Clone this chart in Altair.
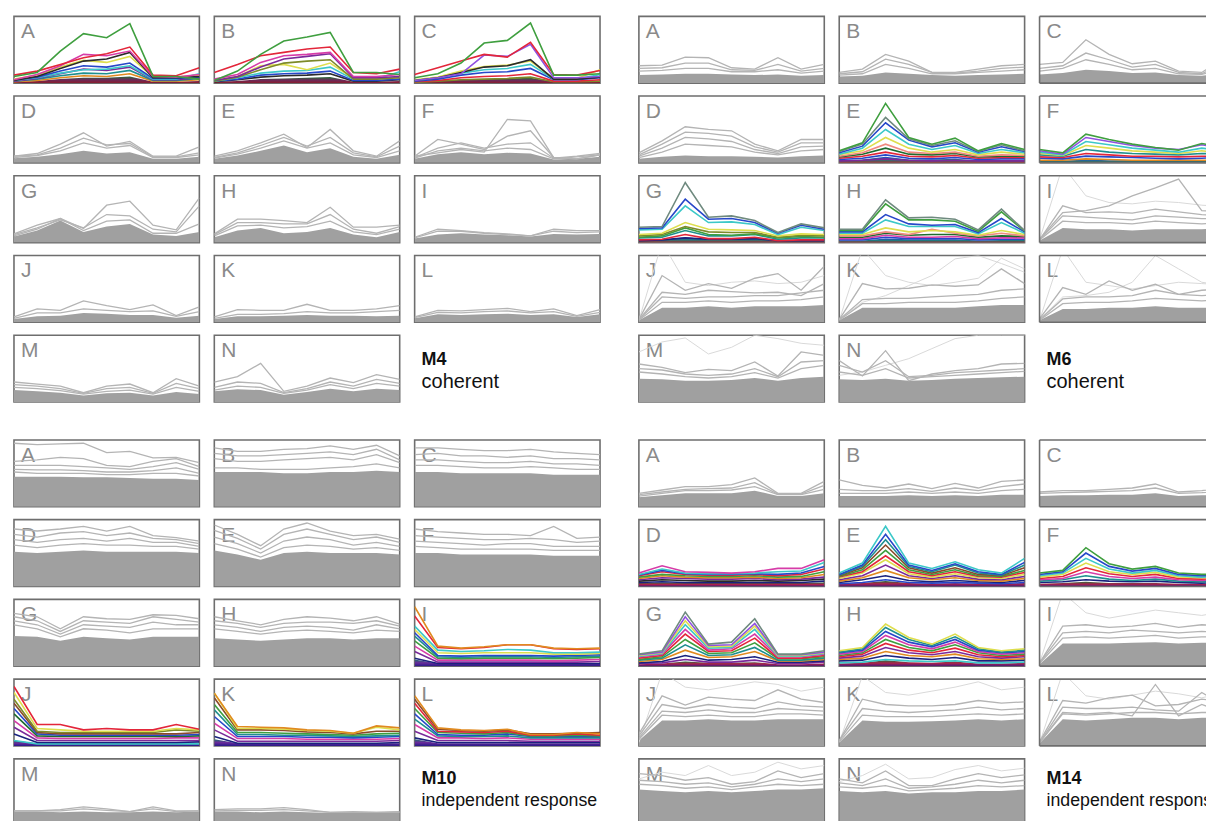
import altair as alt
import pandas as pd

T = list(range(9))  # nine time points per profile
LETTERS = "ABCDEFGHIJKLMN"

# ---------------- M4 ----------------
M4_BAND = {
    "A": [2, 3, 6, 8, 8, 10, 2, 2, 3],
    "B": [2, 3, 6, 7, 8, 9, 2, 2, 3],
    "C": [2, 3, 5, 6, 7, 8, 2, 2, 3],
    "D": [7, 9, 13, 18, 14, 16, 6, 6, 9],
    "E": [6, 11, 18, 26, 16, 22, 9, 6, 12],
    "F": [6, 13, 16, 13, 15, 14, 5, 6, 9],
    "G": [9, 18, 33, 16, 24, 28, 12, 10, 16],
    "H": [8, 18, 22, 14, 16, 22, 12, 8, 16],
    "I": [6, 12, 14, 12, 11, 9, 13, 12, 13],
    "J": [5, 9, 10, 14, 13, 11, 11, 7, 10],
    "K": [5, 9, 9, 10, 11, 10, 10, 9, 10],
    "L": [6, 12, 11, 12, 13, 11, 12, 8, 12],
    "M": [18, 16, 14, 10, 13, 14, 10, 15, 12],
    "N": [16, 19, 18, 11, 15, 20, 16, 20, 18],
}
M4_LINES = {
    "A": [[10, 16, 48, 74, 68, 89, 10, 10, 6], [12, 18, 28, 38, 44, 54, 12, 11, 23],
          [5, 13, 26, 43, 41, 48, 10, 9, 13], [4, 10, 22, 33, 36, 46, 8, 8, 10],
          [6, 12, 24, 34, 31, 40, 9, 9, 12], [5, 9, 18, 26, 24, 30, 7, 7, 9],
          [4, 8, 15, 20, 21, 26, 6, 6, 14], [3, 7, 14, 21, 19, 24, 5, 5, 8],
          [3, 6, 11, 15, 14, 19, 4, 4, 7], [2, 4, 8, 11, 10, 14, 3, 3, 5]],
    "B": [[4, 18, 43, 63, 69, 76, 16, 16, 13], [16, 28, 41, 46, 51, 54, 16, 14, 21],
          [6, 13, 31, 41, 43, 46, 10, 10, 13], [4, 10, 24, 36, 40, 44, 8, 8, 10],
          [3, 9, 20, 30, 33, 35, 6, 6, 8], [4, 10, 26, 28, 20, 30, 7, 7, 9],
          [3, 8, 15, 18, 19, 24, 6, 6, 17], [3, 6, 12, 14, 15, 18, 4, 4, 6],
          [2, 5, 9, 11, 12, 14, 3, 3, 5]],
    "C": [[8, 14, 30, 60, 64, 90, 12, 12, 14], [13, 23, 33, 43, 39, 61, 13, 12, 19],
          [4, 8, 14, 42, 40, 58, 8, 8, 10], [4, 8, 16, 24, 26, 35, 6, 6, 9],
          [5, 9, 18, 25, 27, 33, 7, 7, 20], [4, 8, 15, 20, 22, 28, 6, 6, 13],
          [3, 6, 12, 16, 17, 22, 5, 5, 8], [2, 4, 8, 10, 11, 14, 3, 3, 5],
          [1, 3, 5, 6, 7, 9, 2, 2, 3]],
    "D": [[10, 14, 28, 45, 25, 32, 10, 10, 24], [10, 12, 22, 37, 27, 29, 9, 9, 15],
          [8, 11, 18, 30, 22, 26, 8, 8, 12]],
    "E": [[10, 18, 30, 43, 23, 50, 18, 10, 33], [8, 15, 26, 38, 25, 38, 15, 9, 25],
          [7, 13, 22, 33, 22, 30, 12, 8, 18]],
    "F": [[10, 15, 20, 16, 65, 63, 8, 6, 12], [10, 35, 28, 20, 40, 48, 8, 6, 12],
          [8, 22, 30, 22, 28, 30, 7, 10, 14], [7, 18, 22, 18, 22, 20, 6, 9, 12]],
    "G": [[13, 26, 36, 21, 56, 62, 26, 19, 67], [12, 22, 34, 22, 42, 40, 20, 16, 55],
          [10, 20, 36, 18, 32, 34, 14, 14, 28]],
    "H": [[13, 35, 35, 33, 30, 53, 23, 23, 26], [12, 30, 30, 28, 28, 42, 20, 14, 24],
          [10, 25, 26, 22, 24, 32, 16, 12, 20]],
    "I": [[8, 20, 18, 15, 13, 10, 20, 18, 18], [7, 17, 17, 14, 12, 10, 17, 15, 16]],
    "J": [[8, 20, 18, 32, 25, 19, 26, 10, 23], [6, 14, 14, 20, 18, 16, 17, 9, 16]],
    "K": [[8, 19, 18, 18, 27, 18, 18, 20, 25], [6, 12, 12, 13, 16, 14, 14, 16, 18]],
    "L": [[8, 18, 17, 19, 21, 16, 20, 10, 19], [7, 15, 14, 16, 17, 14, 16, 9, 15]],
    "M": [[30, 27, 24, 14, 24, 27, 14, 35, 24], [26, 24, 20, 13, 20, 22, 13, 28, 20],
          [22, 20, 17, 12, 16, 18, 12, 22, 16]],
    "N": [[30, 38, 58, 16, 24, 36, 29, 41, 34], [22, 30, 28, 14, 20, 30, 24, 34, 28],
          [18, 24, 22, 13, 18, 26, 20, 28, 24]],
}
M4_FAINT = {}
M4_COLORED = {"A": "grmkybcpto", "B": "grmplycbk", "C": "grvkycbrl"}

# ---------------- M6 ----------------
M6_BAND = {
    "A": [12, 13, 14, 14, 13, 12, 13, 11, 12],
    "B": [10, 11, 16, 14, 12, 11, 12, 13, 14],
    "C": [13, 15, 20, 18, 15, 16, 12, 11, 15],
    "D": [6, 9, 11, 10, 10, 9, 8, 10, 11],
    "E": [3, 5, 9, 5, 5, 6, 3, 4, 4],
    "F": [3, 3, 5, 4, 4, 4, 3, 3, 3],
    "G": [3, 4, 8, 5, 5, 6, 3, 3, 3],
    "H": [3, 3, 6, 5, 5, 5, 3, 4, 4],
    "I": [3, 22, 20, 20, 18, 20, 20, 20, 22],
    "J": [3, 22, 22, 24, 22, 24, 24, 24, 26],
    "K": [3, 22, 22, 22, 22, 22, 24, 26, 26],
    "L": [3, 20, 20, 22, 22, 24, 22, 22, 22],
    "M": [35, 34, 32, 32, 33, 36, 32, 36, 38],
    "N": [34, 33, 35, 32, 33, 35, 36, 37, 38],
}
M6_LINES = {
    "A": [[26, 27, 39, 38, 23, 21, 38, 21, 28], [22, 23, 30, 30, 20, 19, 28, 18, 22],
          [18, 19, 22, 22, 17, 17, 20, 15, 18]],
    "B": [[16, 21, 43, 33, 16, 16, 21, 26, 28], [14, 17, 36, 28, 16, 15, 18, 22, 24],
          [12, 14, 28, 22, 14, 14, 16, 18, 20]],
    "C": [[28, 31, 65, 43, 29, 33, 18, 16, 38], [22, 26, 45, 35, 24, 28, 16, 14, 30],
          [18, 22, 35, 28, 20, 22, 14, 13, 22]],
    "D": [[15, 33, 54, 50, 48, 28, 18, 35, 35], [12, 28, 46, 44, 40, 24, 16, 30, 30],
          [10, 22, 38, 36, 32, 20, 14, 24, 25], [8, 16, 28, 26, 24, 16, 12, 18, 20]],
    "E": [[18, 30, 89, 38, 28, 37, 18, 29, 20], [17, 28, 68, 36, 26, 33, 17, 27, 18],
          [15, 25, 60, 34, 24, 30, 16, 24, 17], [13, 22, 50, 28, 20, 26, 14, 20, 15],
          [12, 18, 38, 22, 16, 20, 12, 16, 13], [10, 15, 28, 16, 14, 16, 10, 12, 11],
          [9, 13, 22, 13, 12, 14, 9, 10, 10], [7, 10, 16, 10, 9, 11, 7, 8, 8],
          [5, 7, 12, 7, 6, 8, 5, 6, 6], [3, 4, 6, 4, 3, 4, 3, 3, 3]],
    "F": [[20, 15, 43, 35, 28, 23, 19, 29, 23], [18, 13, 38, 32, 26, 22, 20, 27, 22],
          [16, 12, 32, 27, 22, 19, 16, 22, 18], [14, 11, 26, 22, 18, 16, 14, 18, 15],
          [12, 10, 20, 16, 14, 13, 12, 14, 13], [9, 8, 14, 12, 10, 10, 9, 10, 10],
          [7, 6, 10, 9, 8, 7, 6, 7, 8], [4, 4, 6, 5, 4, 4, 4, 4, 4]],
    "G": [[23, 24, 90, 38, 40, 33, 15, 28, 22], [21, 22, 65, 35, 36, 30, 14, 26, 20],
          [19, 20, 55, 30, 31, 27, 12, 23, 18], [12, 14, 30, 20, 19, 18, 10, 13, 12],
          [10, 12, 24, 16, 15, 15, 8, 11, 10], [8, 10, 22, 12, 11, 13, 7, 9, 8],
          [7, 8, 18, 10, 10, 12, 5, 7, 7], [4, 5, 12, 6, 6, 8, 3, 4, 4],
          [3, 4, 7, 5, 5, 6, 3, 3, 3]],
    "H": [[20, 20, 64, 37, 38, 35, 19, 50, 18], [18, 18, 58, 34, 34, 32, 17, 46, 17],
          [16, 16, 42, 28, 26, 27, 15, 36, 16], [14, 14, 34, 24, 24, 24, 13, 30, 14],
          [12, 12, 22, 16, 18, 16, 11, 18, 12], [10, 10, 16, 12, 20, 14, 10, 14, 10],
          [8, 8, 14, 11, 12, 12, 8, 10, 9], [6, 6, 11, 8, 8, 9, 6, 7, 7],
          [4, 4, 8, 6, 6, 6, 4, 5, 5]],
    "I": [[5, 45, 48, 55, 70, 82, 95, 48, 45], [4, 55, 45, 46, 44, 50, 46, 42, 40],
          [4, 40, 38, 36, 34, 40, 38, 36, 35], [4, 32, 30, 30, 28, 32, 30, 28, 30]],
    "J": [[4, 70, 48, 58, 51, 66, 73, 48, 84], [4, 45, 42, 48, 46, 44, 45, 40, 58],
          [4, 38, 36, 38, 38, 40, 40, 44, 48], [3, 30, 30, 32, 30, 32, 32, 34, 38]],
    "K": [[4, 58, 50, 51, 56, 54, 56, 80, 58], [4, 34, 36, 36, 38, 40, 42, 48, 50],
          [3, 28, 28, 30, 30, 30, 32, 36, 38]],
    "L": [[5, 52, 42, 62, 48, 57, 42, 48, 50], [4, 35, 38, 38, 40, 48, 42, 40, 42],
          [3, 28, 30, 30, 32, 36, 34, 32, 34]],
    "M": [[57, 52, 44, 49, 47, 60, 39, 75, 70], [50, 48, 42, 40, 42, 50, 38, 60, 62],
          [45, 42, 38, 36, 38, 44, 36, 50, 55]],
    "N": [[62, 39, 77, 32, 42, 47, 50, 57, 58], [55, 45, 62, 38, 40, 44, 46, 48, 50],
          [45, 40, 50, 36, 38, 40, 42, 44, 46]],
}
M6_FAINT = {
    "I": [[4, 115, 70, 60, 58, 62, 60, 56, 54]],
    "J": [[3, 120, 60, 55, 60, 62, 58, 60, 70]],
    "K": [[4, 30, 40, 55, 70, 95, 100, 88, 75], [3, 110, 70, 60, 55, 60, 66, 96, 80]],
    "L": [[4, 38, 40, 45, 60, 100, 80, 60, 55], [3, 110, 60, 55, 50, 55, 60, 58, 56]],
    "M": [[75, 90, 96, 72, 82, 100, 95, 88, 85]],
    "N": [[40, 45, 55, 65, 80, 95, 100, 100, 100]],
}
M6_COLORED = {"E": "gabcyserbp", "F": "gvcytrbo", "G": "abcylgtrn", "H": "agbcysemb"}

# ---------------- M10 ----------------
M10_BAND = {
    "A": [45, 45, 45, 44, 44, 43, 42, 42, 40],
    "B": [52, 52, 52, 50, 50, 52, 52, 54, 52],
    "C": [52, 52, 50, 50, 50, 50, 48, 48, 48],
    "D": [52, 50, 52, 54, 52, 52, 52, 52, 50],
    "E": [54, 48, 40, 50, 52, 50, 50, 50, 48],
    "F": [50, 50, 48, 48, 48, 48, 46, 46, 46],
    "G": [45, 44, 38, 44, 42, 40, 44, 44, 44],
    "H": [42, 40, 38, 40, 42, 42, 40, 42, 42],
    "I": [10, 4, 4, 4, 4, 4, 4, 4, 4],
    "J": [8, 4, 4, 4, 4, 4, 4, 4, 4],
    "K": [10, 4, 4, 4, 4, 4, 4, 4, 4],
    "L": [10, 4, 4, 4, 4, 4, 4, 4, 4],
    "M": [21, 21, 20, 21, 20, 20, 21, 20, 21],
    "N": [21, 21, 20, 21, 20, 19, 20, 20, 21],
}
M10_LINES = {
    "A": [[95, 93, 94, 95, 81, 83, 73, 74, 66], [68, 70, 74, 72, 62, 60, 68, 72, 60],
          [62, 62, 62, 60, 58, 56, 60, 66, 56], [56, 55, 55, 54, 52, 52, 54, 58, 50],
          [52, 50, 50, 50, 48, 48, 50, 50, 46]],
    "B": [[88, 83, 83, 86, 87, 91, 86, 92, 76], [80, 76, 76, 78, 80, 82, 78, 86, 70],
          [72, 68, 68, 70, 72, 74, 70, 78, 66], [58, 58, 56, 56, 56, 58, 60, 64, 58]],
    "C": [[88, 88, 86, 84, 84, 86, 82, 80, 78], [78, 80, 76, 76, 74, 76, 72, 72, 70],
          [70, 70, 68, 66, 66, 68, 64, 64, 62], [62, 62, 60, 58, 58, 60, 58, 56, 56]],
    "D": [[86, 83, 86, 90, 83, 90, 76, 73, 68], [78, 74, 80, 82, 76, 80, 72, 70, 64],
          [70, 66, 70, 72, 68, 72, 66, 66, 60], [62, 58, 62, 64, 62, 62, 60, 60, 56]],
    "E": [[92, 78, 61, 86, 95, 83, 76, 78, 71], [84, 72, 56, 78, 86, 78, 70, 74, 66],
          [74, 64, 50, 68, 74, 70, 62, 66, 60], [64, 56, 44, 58, 62, 60, 56, 58, 54]],
    "F": [[86, 82, 80, 78, 78, 76, 90, 72, 74], [76, 74, 72, 70, 70, 72, 70, 66, 68],
          [68, 66, 64, 62, 64, 64, 60, 60, 60], [60, 58, 56, 56, 56, 56, 54, 54, 54]],
    "G": [[79, 74, 56, 74, 71, 70, 77, 76, 71], [74, 68, 52, 68, 66, 64, 74, 70, 66],
          [68, 62, 48, 62, 60, 58, 66, 62, 62], [62, 56, 44, 56, 54, 50, 56, 56, 56]],
    "H": [[74, 68, 62, 70, 74, 72, 68, 74, 63], [68, 64, 58, 64, 66, 66, 64, 68, 60],
          [62, 58, 52, 58, 60, 58, 54, 62, 56], [56, 52, 48, 52, 54, 52, 50, 54, 52]],
    "I": [[89, 30, 27, 29, 32, 32, 27, 26, 27], [75, 28, 26, 28, 32, 32, 26, 25, 26],
          [60, 24, 22, 23, 25, 24, 20, 20, 21], [55, 20, 19, 20, 20, 20, 18, 18, 19],
          [50, 16, 15, 16, 16, 16, 15, 16, 17], [45, 14, 13, 14, 14, 14, 13, 14, 15],
          [38, 12, 11, 12, 12, 12, 11, 12, 13], [30, 9, 9, 9, 9, 9, 8, 9, 10],
          [22, 6, 6, 6, 6, 6, 6, 6, 7], [12, 4, 4, 4, 4, 4, 4, 4, 4]],
    "J": [[89, 32, 32, 24, 26, 24, 24, 32, 25], [80, 26, 24, 22, 22, 22, 22, 26, 24],
          [70, 22, 20, 20, 20, 20, 20, 24, 22], [64, 20, 18, 18, 18, 18, 18, 18, 20],
          [56, 18, 16, 16, 16, 16, 16, 16, 17], [48, 15, 14, 14, 14, 14, 14, 14, 15],
          [38, 12, 11, 11, 11, 11, 11, 12, 12], [28, 8, 8, 8, 8, 8, 8, 8, 8],
          [18, 5, 5, 5, 5, 5, 5, 5, 6], [8, 3, 3, 3, 3, 3, 3, 3, 3]],
    "K": [[79, 29, 28, 27, 24, 23, 19, 30, 27], [79, 26, 26, 25, 23, 22, 19, 28, 24],
          [72, 24, 24, 23, 21, 20, 18, 22, 22], [62, 20, 20, 19, 18, 17, 16, 18, 19],
          [54, 17, 17, 16, 16, 15, 14, 15, 16], [44, 14, 14, 14, 13, 13, 12, 13, 14],
          [34, 11, 11, 11, 10, 10, 10, 10, 11], [24, 7, 7, 7, 7, 7, 7, 7, 8],
          [14, 4, 4, 4, 4, 4, 4, 4, 5]],
    "L": [[75, 27, 24, 23, 25, 17, 17, 20, 18], [70, 25, 23, 22, 24, 18, 18, 19, 20],
          [64, 22, 21, 20, 22, 16, 16, 18, 16], [56, 20, 19, 18, 20, 15, 15, 16, 15],
          [48, 17, 16, 16, 18, 14, 14, 14, 14], [40, 15, 14, 14, 15, 12, 12, 12, 12],
          [32, 12, 12, 11, 12, 10, 10, 10, 10], [22, 8, 8, 8, 8, 7, 7, 7, 7],
          [12, 5, 5, 5, 5, 5, 5, 5, 5]],
    "M": [[22, 22, 24, 28, 25, 21, 28, 22, 22], [22, 22, 22, 25, 23, 21, 25, 21, 22]],
    "N": [[24, 25, 25, 27, 24, 20, 21, 20, 21], [22, 23, 23, 24, 22, 20, 20, 20, 20]],
}
M10_FAINT = {}
M10_COLORED = {"I": "orcybtgmpn", "J": "rylwbempnc", "K": "oywgtbmpn", "L": "owrgbtmpn"}

# ---------------- M14 ----------------
M14_BAND = {
    "A": [14, 17, 20, 20, 20, 24, 16, 16, 20],
    "B": [16, 16, 16, 17, 16, 17, 16, 18, 18],
    "C": [16, 17, 17, 18, 18, 20, 16, 17, 18],
    "D": [5, 6, 5, 5, 5, 5, 5, 5, 6],
    "E": [4, 5, 8, 5, 4, 5, 4, 4, 5],
    "F": [4, 5, 7, 5, 5, 5, 4, 4, 4],
    "G": [3, 4, 7, 5, 5, 6, 3, 3, 4],
    "H": [4, 5, 9, 6, 5, 7, 4, 4, 5],
    "I": [3, 34, 34, 34, 35, 36, 34, 35, 35],
    "J": [8, 38, 38, 40, 38, 38, 40, 40, 40],
    "K": [5, 38, 36, 36, 37, 38, 40, 38, 40],
    "L": [4, 40, 38, 40, 42, 42, 40, 42, 42],
    "M": [54, 52, 50, 52, 50, 52, 54, 54, 56],
    "N": [52, 50, 52, 48, 50, 50, 52, 52, 54],
}
M14_LINES = {
    "A": [[20, 25, 30, 30, 33, 43, 20, 20, 38], [18, 22, 26, 27, 28, 36, 19, 19, 32],
          [16, 20, 24, 24, 25, 30, 18, 18, 26]],
    "B": [[40, 32, 28, 34, 27, 35, 28, 38, 40], [26, 24, 24, 27, 23, 28, 24, 30, 34],
          [20, 20, 20, 22, 20, 22, 20, 24, 26]],
    "C": [[22, 24, 24, 26, 28, 34, 22, 24, 28], [20, 21, 22, 23, 24, 28, 20, 21, 24]],
    "D": [[20, 31, 22, 21, 20, 22, 27, 27, 40], [18, 26, 20, 19, 19, 20, 22, 23, 36],
          [17, 24, 19, 18, 18, 19, 18, 20, 30], [16, 22, 18, 17, 17, 18, 16, 18, 26],
          [14, 18, 16, 15, 15, 16, 14, 15, 22], [12, 16, 14, 13, 13, 14, 12, 13, 18],
          [10, 13, 12, 11, 11, 12, 10, 11, 14], [8, 10, 9, 8, 8, 9, 8, 9, 11],
          [6, 7, 6, 6, 6, 6, 6, 6, 8]],
    "E": [[20, 35, 90, 35, 27, 37, 25, 20, 42], [18, 32, 78, 32, 24, 34, 22, 18, 36],
          [17, 30, 70, 30, 22, 32, 20, 17, 32], [16, 28, 62, 28, 20, 28, 18, 16, 28],
          [15, 25, 54, 25, 18, 25, 16, 15, 24], [14, 22, 46, 22, 16, 22, 15, 14, 21],
          [12, 20, 40, 19, 14, 19, 13, 12, 18], [10, 16, 32, 16, 12, 16, 11, 10, 15],
          [8, 13, 24, 13, 10, 13, 9, 8, 12], [6, 10, 16, 9, 7, 9, 7, 6, 9],
          [4, 6, 10, 6, 5, 6, 5, 4, 6]],
    "F": [[20, 24, 58, 34, 26, 30, 20, 18, 18], [18, 22, 50, 30, 23, 27, 18, 16, 16],
          [16, 20, 42, 26, 20, 24, 16, 14, 15], [14, 18, 35, 22, 18, 21, 14, 13, 14],
          [12, 15, 28, 19, 15, 18, 12, 11, 12], [10, 12, 22, 15, 12, 14, 10, 9, 10],
          [8, 10, 16, 11, 9, 11, 8, 7, 8], [6, 7, 10, 8, 7, 8, 6, 5, 6]],
    "G": [[18, 23, 81, 33, 36, 71, 18, 18, 23], [17, 21, 74, 31, 32, 64, 17, 17, 21],
          [16, 20, 68, 29, 30, 60, 16, 16, 20], [15, 19, 62, 27, 28, 55, 15, 15, 19],
          [14, 18, 55, 24, 26, 48, 14, 14, 18], [12, 16, 48, 22, 23, 42, 12, 12, 16],
          [10, 14, 40, 19, 20, 35, 11, 11, 14], [9, 12, 32, 16, 17, 28, 9, 9, 12],
          [7, 10, 24, 13, 14, 22, 8, 8, 10], [5, 7, 16, 9, 10, 14, 6, 6, 8],
          [4, 5, 10, 6, 6, 9, 4, 4, 6]],
    "H": [[23, 28, 63, 43, 33, 48, 28, 23, 26], [21, 26, 58, 40, 31, 44, 26, 21, 24],
          [20, 24, 52, 36, 29, 40, 24, 20, 22], [18, 22, 46, 32, 26, 36, 22, 18, 20],
          [16, 20, 40, 28, 23, 32, 20, 16, 18], [14, 18, 34, 24, 20, 27, 17, 14, 16],
          [12, 15, 28, 20, 17, 22, 14, 12, 14], [10, 12, 22, 16, 14, 18, 11, 10, 11],
          [8, 9, 16, 12, 10, 13, 8, 8, 9], [5, 6, 10, 8, 7, 8, 5, 5, 6]],
    "I": [[5, 60, 62, 58, 60, 64, 58, 62, 60], [5, 50, 52, 50, 54, 52, 50, 52, 50],
          [4, 42, 44, 42, 44, 46, 42, 44, 44]],
    "J": [[18, 75, 61, 73, 70, 68, 84, 70, 65], [15, 62, 56, 62, 58, 56, 66, 60, 58],
          [12, 52, 50, 54, 50, 50, 56, 54, 52], [10, 46, 44, 46, 44, 44, 48, 48, 46]],
    "K": [[8, 70, 62, 60, 60, 62, 68, 64, 66], [8, 56, 52, 50, 52, 54, 58, 54, 56],
          [6, 46, 44, 44, 44, 46, 48, 46, 48]],
    "L": [[6, 68, 64, 72, 76, 60, 62, 70, 66], [5, 50, 48, 50, 45, 92, 45, 62, 50],
          [5, 58, 56, 56, 58, 54, 52, 80, 60], [5, 48, 46, 48, 50, 50, 48, 50, 50]],
    "M": [[78, 75, 68, 72, 62, 66, 82, 72, 78], [68, 66, 62, 64, 58, 62, 70, 66, 70],
          [62, 60, 56, 58, 54, 58, 62, 60, 62]],
    "N": [[70, 64, 82, 60, 60, 70, 78, 72, 76], [64, 60, 70, 56, 58, 62, 68, 64, 68],
          [58, 56, 60, 52, 54, 56, 60, 58, 60]],
}
M14_FAINT = {
    "I": [[5, 110, 80, 72, 78, 84, 80, 76, 82]],
    "J": [[5, 110, 88, 84, 90, 96, 92, 82, 88]],
    "K": [[5, 105, 80, 76, 82, 88, 96, 84, 88]],
    "L": [[4, 110, 75, 70, 76, 82, 78, 72, 80]],
    "M": [[70, 80, 75, 90, 75, 80, 95, 85, 90]],
    "N": [[66, 75, 92, 70, 72, 84, 90, 82, 86]],
}
M14_COLORED = {"D": "mcbrgopkn", "E": "cbtwgryponb", "F": "gbcyrmtn",
               "G": "avycmrgtonp", "H": "ytbmgrponc"}

CAPTIONS = {"M4": "coherent", "M6": "coherent",
            "M10": "independent response", "M14": "independent response"}

# ---------------- styling ----------------
PALETTE = {
    "g": "#3f9f3f", "r": "#e3263a", "m": "#d63ca8", "k": "#2b2b2b", "y": "#dede4e",
    "b": "#2747c9", "c": "#3cc8c8", "p": "#7a2a9a", "t": "#1f8f8f", "o": "#e08a20",
    "n": "#1a237e", "w": "#8b4a2a", "l": "#7d8a2a", "s": "#f08a80", "a": "#6f8a7f",
    "v": "#9050e0", "e": "#1e6b2e",
}
BAND_STOPS = {
    "M4": ["#8a1c2c", "#6a2a5a", "#2a6a3a"],
    "M6": ["#b02a2a", "#1f7a7a", "#2747c9"],
    "M10": ["#2a1a8a", "#6a2a9a", "#1f6f6f"],
    "M14": ["#4a1a7a", "#b0204a", "#2a6a3a"],
}
DENSE = "#a0a0a0"
LINE_GRAY = "#b4b4b4"
FAINT_GRAY = "#d9d9d9"
BORDER = "#6e6e6e"
BORDER_W = 1.6
FONT = "Liberation Sans"
PW, PH = 186, 67
CUT_W = 167          # right-most column is cut by the picture edge
GAP_COL = 9          # 15 + 9 + 15 = 39 px between the left and right blocks
GAP_ROW = 12         # 13 + 12 + 13 = 38 px between the upper and lower blocks
COL_W = [PW, PW, PW, GAP_COL, PW, PW, CUT_W]

MODULES = {
    "M4": (M4_BAND, M4_LINES, M4_FAINT, M4_COLORED),
    "M6": (M6_BAND, M6_LINES, M6_FAINT, M6_COLORED),
    "M10": (M10_BAND, M10_LINES, M10_FAINT, M10_COLORED),
    "M14": (M14_BAND, M14_LINES, M14_FAINT, M14_COLORED),
}

Y = alt.Y("v:Q", scale=alt.Scale(domain=[0, 100], nice=False, zero=True), axis=None)
NOSTROKE = alt.ViewBackground(strokeOpacity=0)
ONE = pd.DataFrame({"k": [0]})


def lines_frame(series, colors):
    rows = []
    n = len(series)
    for k, vals in enumerate(reversed(series)):  # lowest first, top line drawn last
        src = n - 1 - k
        col = colors[src] if colors else LINE_GRAY
        for t, v in zip(T, vals):
            rows.append({"id": f"{k:02d}", "t": t, "v": v, "c": col})
    return pd.DataFrame(rows)


def open_frame(w):
    """Top, left and bottom edges only: the right edge lies beyond the picture."""
    rule = alt.Chart(ONE).mark_rule(color=BORDER, strokeWidth=BORDER_W)
    return [
        rule.encode(x=alt.value(0), x2=alt.value(w), y=alt.value(0)),
        rule.encode(x=alt.value(0), x2=alt.value(w), y=alt.value(PH)),
        rule.encode(x=alt.value(0), y=alt.value(0), y2=alt.value(PH)),
    ]


def panel(mod, letter, w):
    cut = w < PW
    X = alt.X("t:Q", scale=alt.Scale(domain=[0, 8 * w / PW], nice=False, zero=False),
              axis=None)
    band, lines, faint, colored = MODULES[mod]
    codes = colored.get(letter)
    layers = []
    lab = alt.Chart(pd.DataFrame({"s": [letter]})).mark_text(
        align="left", baseline="alphabetic", fontSize=21, font=FONT, color="#8a8a8a"
    ).encode(text="s:N", x=alt.value(7), y=alt.value(22))
    layers.append(lab)
    bdf = pd.DataFrame({"t": T, "v": band[letter]})
    if codes:
        st = BAND_STOPS[mod]
        fill = alt.Gradient(
            gradient="linear", x1=0, x2=0, y1=1, y2=0,
            stops=[alt.GradientStop(offset=0, color=st[0]),
                   alt.GradientStop(offset=0.5, color=st[1]),
                   alt.GradientStop(offset=1, color=st[2])])
        layers.append(alt.Chart(bdf).mark_area(color=fill, clip=True).encode(x=X, y=Y))
    else:
        layers.append(alt.Chart(bdf).mark_area(color=DENSE, clip=True).encode(x=X, y=Y))
    fl = faint.get(letter, [])
    if fl:
        layers.append(alt.Chart(lines_frame(fl, None)).mark_line(
            strokeWidth=1, clip=True, color=FAINT_GRAY).encode(x=X, y=Y, detail="id:N"))
    cols = [PALETTE[codes[i % len(codes)]] for i in range(len(lines[letter]))] if codes else None
    layers.append(alt.Chart(lines_frame(lines[letter], cols)).mark_line(
        strokeWidth=1.6 if codes else 1.3, clip=True).encode(
        x=X, y=Y, detail="id:N", color=alt.Color("c:N", scale=None)))
    if cut:
        layers += open_frame(w)
        return alt.layer(*layers).properties(width=w, height=PH, view=NOSTROKE)
    return alt.layer(*layers).properties(width=w, height=PH)


def caption(mod, w):
    big = mod in ("M4", "M6")
    y1, y2 = (30, 53) if big else (25, 47)
    t1 = alt.Chart(pd.DataFrame({"s": [mod]})).mark_text(
        align="left", baseline="alphabetic", fontSize=18, fontWeight="bold",
        font=FONT, color="#111111", clip=True).encode(
        text="s:N", x=alt.value(7), y=alt.value(y1))
    t2 = alt.Chart(pd.DataFrame({"s": [CAPTIONS[mod]]})).mark_text(
        align="left", baseline="alphabetic", fontSize=20 if big else 17.8,
        font=FONT, color="#111111", clip=True).encode(
        text="s:N", x=alt.value(7), y=alt.value(y2))
    return alt.layer(t1, t2).properties(width=w, height=PH, view=NOSTROKE)


def spacer(w, h):
    return alt.Chart(ONE).mark_point(opacity=0).encode(
        x=alt.value(0), y=alt.value(0)).properties(width=w, height=h, view=NOSTROKE)


def block_cells(mod, col_offset, r):
    out = []
    for c in range(3):
        w = COL_W[col_offset + c]
        idx = r * 3 + c
        out.append(caption(mod, w) if idx == 14 else panel(mod, LETTERS[idx], w))
    return out


cells = []
for left, right in (("M4", "M6"), ("M10", "M14")):
    if left == "M10":
        cells += [spacer(w, GAP_ROW) for w in COL_W]
    for r in range(5):
        cells += block_cells(left, 0, r)
        cells.append(spacer(GAP_COL, PH))
        cells += block_cells(right, 4, r)

chart = alt.concat(
    *cells, columns=7, spacing={"row": 13, "column": 15}, bounds="flush"
).properties(
    padding={"left": 3, "top": 4, "right": 0, "bottom": 0}
).configure_view(stroke=BORDER, strokeWidth=BORDER_W)

chart.save("out.html", embed_options={"renderer": "svg", "actions": False})
